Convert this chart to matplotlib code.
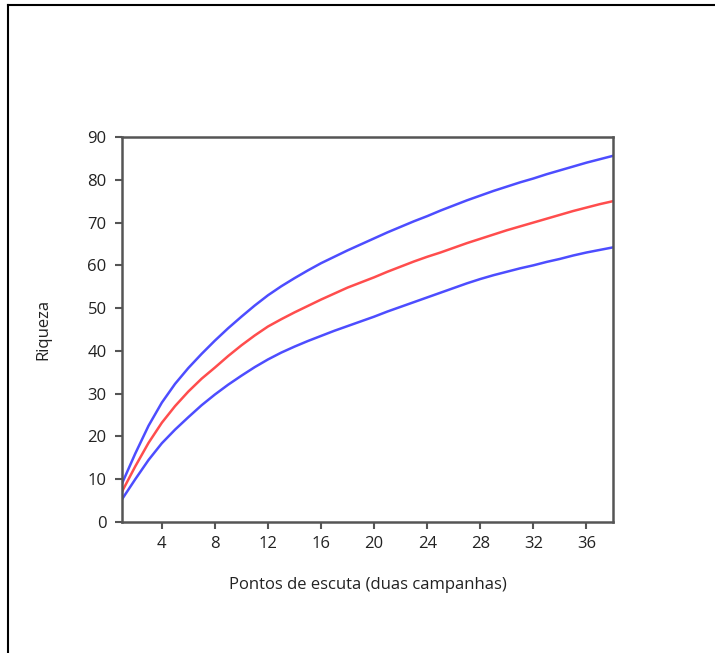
import matplotlib
matplotlib.use("Agg")
import matplotlib.pyplot as plt
from matplotlib.lines import Line2D

x = list(range(1, 39))
riqueza = [7.1, 13.0, 18.5, 23.2, 27.1, 30.5, 33.5, 36.1, 38.8, 41.3,
           43.6, 45.7, 47.4, 49.0, 50.5, 52.0, 53.4, 54.8, 56.0, 57.2,
           58.5, 59.7, 60.9, 62.0, 63.0, 64.1, 65.2, 66.2, 67.2, 68.2,
           69.1, 70.0, 70.9, 71.8, 72.7, 73.5, 74.3, 75.0]
superior = [9.0, 16.0, 22.5, 27.9, 32.3, 36.0, 39.3, 42.4, 45.3, 48.0,
            50.6, 53.0, 55.1, 57.0, 58.8, 60.5, 62.0, 63.5, 64.9, 66.3,
            67.7, 69.0, 70.3, 71.5, 72.8, 74.0, 75.2, 76.3, 77.4, 78.4,
            79.4, 80.3, 81.3, 82.2, 83.1, 84.0, 84.8, 85.6]
inferior = [5.3, 10.0, 14.5, 18.4, 21.6, 24.5, 27.3, 29.8, 32.1, 34.2,
            36.2, 38.0, 39.6, 41.0, 42.3, 43.5, 44.7, 45.8, 46.9, 48.0,
            49.2, 50.3, 51.4, 52.5, 53.6, 54.7, 55.8, 56.8, 57.7, 58.5,
            59.3, 60.0, 60.8, 61.5, 62.3, 63.0, 63.6, 64.2]
xticks = [4, 8, 12, 16, 20, 24, 28, 32, 36]
yticks = [0, 10, 20, 30, 40, 50, 60, 70, 80, 90]

plt.rcParams['font.family'] = ['Open Sans', 'DejaVu Sans']

fig = plt.figure(figsize=(7.15, 6.53), dpi=100)
ax = fig.add_axes([122/715, 1-522/653, (613-122)/715, (522-137)/653])

blue = '#4d4dff'
red = '#ff4d4d'
ax.plot(x, superior, color=blue, lw=1.8)
ax.plot(x, riqueza, color=red, lw=1.8)
ax.plot(x, inferior, color=blue, lw=1.8)

ax.set_xlim(1, 38)
ax.set_ylim(0, 90)
ax.set_xticks(xticks)
ax.set_yticks(yticks)
ax.tick_params(direction='out', length=5, width=1.5, color='#555555',
               labelsize=12, labelcolor='#222222')
ax.tick_params(axis='y', pad=6)
ax.tick_params(axis='x', pad=5)
for s in ax.spines.values():
    s.set_color('#555555')
    s.set_linewidth(1.8)

ax.set_xlabel('Pontos de escuta (duas campanhas)', fontsize=12, color='#222222', labelpad=18)
ax.set_ylabel('Riqueza', fontsize=12, color='#222222', labelpad=26)

# outer frame (left and top edges visible)
fig.add_artist(Line2D([8/715, 8/715], [0, 1-5/653], transform=fig.transFigure, color='black', lw=1.5))
fig.add_artist(Line2D([8/715, 1], [1-5/653, 1-5/653], transform=fig.transFigure, color='black', lw=1.5))

fig.savefig('out.png', dpi=100)
